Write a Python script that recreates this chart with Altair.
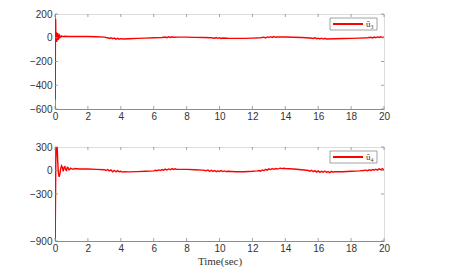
import altair as alt
import pandas as pd

# ---- data ----
t3 = [0, 0.01, 0.02, 0.03, 0.04, 0.05, 0.06, 0.07, 0.08, 0.09, 0.1, 0.12, 0.14, 0.16, 0.18, 0.2,
      0.22, 0.24, 0.26, 0.28, 0.3, 0.35, 0.4, 0.45, 0.5, 0.6, 0.8, 1.0, 1.5, 2.0, 2.5, 3.0,
      3.1, 3.2, 3.3, 3.4, 3.5, 3.6, 3.7, 3.8, 3.9, 4.0, 4.2, 4.5, 5.0, 5.5, 6.0, 6.5,
      6.7, 6.8, 6.9, 7.0, 7.1, 7.2, 7.5, 8.0, 8.5, 9.0, 9.5, 9.7, 9.8, 9.9, 10.0, 10.1,
      10.2, 10.5, 11.0, 11.5, 12.0, 12.5, 12.7, 12.8, 12.9, 13.0, 13.1, 13.2, 13.3, 13.4,
      13.5, 14.0, 14.5, 15.0, 15.5, 15.7, 15.8, 15.9, 16.0, 16.1, 16.2, 16.3, 16.4, 16.5,
      17.0, 17.5, 18.0, 18.5, 19.0, 19.2, 19.3, 19.4, 19.5, 19.6, 19.7, 19.8, 19.9, 20.0]
u3 = [0, -520, -200, 160, 150, 20, -30, 45, 40, -20, -35, 30, 40, -10, -20, 25,
      20, -5, 0, 20, 15, 5, 15, 10, 10, 12, 10, 10, 10, 10, 8, 5,
      2, 0, -6, 0, -8, -3, -12, -5, -12, -8, -10, -8, -5, -3, 0, 2,
      6, 1, 8, 2, 8, 4, 5, 5, 3, 2, 0, -4, 2, -5, 0, -6,
      -2, -4, -5, -5, -3, 0, 5, -1, 7, 2, 9, 3, 10, 4, 6, 6, 4, 2, -2, -6,
      0, -8, -4, -10, -4, -11, -5, -10, -8, -6, -5, -3, 0, 4, -1, 6, 1, 7,
      2, 8, 3, 5]

t4 = [0, 0.01, 0.03, 0.05, 0.08, 0.12, 0.16, 0.2, 0.25, 0.3, 0.35, 0.4, 0.45, 0.5, 0.55, 0.6,
      0.65, 0.7, 0.75, 0.8, 0.85, 0.9, 0.95, 1.0, 1.1, 1.2, 1.5, 2.0, 2.5, 3.0,
      3.1, 3.2, 3.3, 3.4, 3.5, 3.6, 3.7, 3.8, 3.9, 4.0, 4.1, 4.2, 4.5, 5.0, 5.5, 6.0,
      6.1, 6.2, 6.3, 6.4, 6.5, 6.6, 6.7, 6.8, 6.9, 7.0, 7.1, 7.2, 7.3, 7.4, 8.0, 8.5, 9.0,
      9.2, 9.3, 9.4, 9.5, 9.6, 9.7, 9.8, 9.9, 10.0, 10.1, 10.2, 10.3, 10.4, 10.5,
      11.0, 11.5, 12.0, 12.3, 12.4, 12.5, 12.6, 12.7, 12.8, 12.9, 13.0, 13.1, 13.2, 13.3,
      13.4, 13.5, 13.6, 13.7, 13.8, 13.9, 14.0, 14.5, 15.0, 15.4,
      15.5, 15.6, 15.7, 15.8, 15.9, 16.0, 16.1, 16.2, 16.3, 16.4, 16.5, 16.6, 16.7, 16.8,
      16.9, 17.0, 17.5, 18.0, 18.5, 18.9, 19.0, 19.1, 19.2, 19.3, 19.4, 19.5, 19.6, 19.7,
      19.8, 19.9, 20.0]
u4 = [0, -870, -400, 100, 340, 380, 150, -20, -80, -40, 30, 60, 40, -10, 40, 50,
      10, 0, 40, 35, 10, 15, 30, 25, 15, 25, 20, 20, 15, 10,
      0, 12, -5, 8, -15, 2, -18, -2, -16, -10, -20, -14, -18, -15, -10, -5,
      3, -3, 7, 0, 12, 4, 18, 6, 20, 10, 24, 14, 22, 15, 15, 10, 5,
      -3, 7, -10, 3, -12, 0, -15, -5, -12, -2, -14, -6, -14, -10,
      -15, -15, -10, -5, 0, -8, 7, -3, 15, 5, 20, 10, 25, 15,
      26, 20, 24, 30, 24, 28, 25, 20, 10, 0,
      -8, 3, -15, -2, -20, -6, -24, -10, -22, -7, -25, -14, -28, -12,
      -22, -15, -15, -10, -5, 4, -3, 8, 0, 12, 4, 16, 5, 20,
      10, 24, 10]

x_ticks = [0, 2, 4, 6, 8, 10, 12, 14, 16, 18, 20]
y3_ticks = [-600, -400, -200, 0, 200]
y4_ticks = [-900, -300, 0, 300]

W = 329
RED = "#ff0000"
GRAY = "#8c8c8c"
TXT = "#333333"


def panel(t, u, label, ydom, yticks, xtitle, H):
    df = pd.DataFrame({"t": t, "u": u})
    xs = alt.Scale(domain=[0, 20], nice=False)
    ys = alt.Scale(domain=ydom, nice=False)
    xa = alt.Axis(values=x_ticks, title=xtitle, ticks=False, grid=False,
                  labelOverlap=False, labelFlush=False,
                  domainColor=GRAY, labelFont="Liberation Sans", labelFontSize=10,
                  labelColor=TXT, labelPadding=2, titleFont="Liberation Serif",
                  titleFontSize=11, titleFontWeight="normal", titleColor=TXT,
                  titlePadding=2)
    ya = alt.Axis(values=yticks, title=None, ticks=False, grid=False,
                  labelOverlap=False, labelFlush=False,
                  domainColor=GRAY, labelFont="Liberation Sans", labelFontSize=10,
                  labelColor=TXT, labelPadding=3)
    line = alt.Chart(df).mark_line(strokeWidth=1.4, clip=True, color=RED).encode(
        x=alt.X("t:Q", scale=xs, axis=xa, title=xtitle),
        y=alt.Y("u:Q", scale=ys, axis=ya, title=None),
    )
    xt = pd.DataFrame({"v": x_ticks})
    yt = pd.DataFrame({"v": yticks})
    tb = alt.Chart(xt).mark_rule(color=GRAY, strokeWidth=0.8).encode(
        x=alt.X("v:Q", scale=xs, axis=xa, title=xtitle), y=alt.value(H), y2=alt.value(H - 3))
    tt = alt.Chart(xt).mark_rule(color=GRAY, strokeWidth=0.8).encode(
        x=alt.X("v:Q", scale=xs, axis=xa, title=xtitle), y=alt.value(0), y2=alt.value(3))
    tl = alt.Chart(yt).mark_rule(color=GRAY, strokeWidth=0.8).encode(
        y=alt.Y("v:Q", scale=ys, axis=ya, title=None), x=alt.value(0), x2=alt.value(3))
    tr = alt.Chart(yt).mark_rule(color=GRAY, strokeWidth=0.8).encode(
        y=alt.Y("v:Q", scale=ys, axis=ya, title=None), x=alt.value(W), x2=alt.value(W - 3))
    # legend box
    ld = pd.DataFrame({"s": [label]})
    lbox = alt.Chart(ld).mark_rect(fill="white", stroke=GRAY, strokeWidth=0.8).encode(
        x=alt.value(W - 54), x2=alt.value(W - 7), y=alt.value(4), y2=alt.value(16))
    lline = alt.Chart(ld).mark_rule(color=RED, strokeWidth=2).encode(
        x=alt.value(W - 51), x2=alt.value(W - 21), y=alt.value(10))
    ltext = alt.Chart(ld).mark_text(align="left", baseline="middle", font="Liberation Serif",
                                    fontSize=9, color=TXT).encode(
        x=alt.value(W - 18), y=alt.value(10), text="s:N")
    return alt.layer(line, tb, tt, tl, tr, lbox, lline, ltext).properties(width=W, height=H)


top = panel(t3, u3, "ū₃", [-600, 200], y3_ticks, None, 95)
bot = panel(t4, u4, "ū₄", [-900, 300], y4_ticks, "Time(sec)", 94)

chart = alt.vconcat(top, bot, spacing=19).properties(
    padding={"left": 20, "top": 0, "right": 5, "bottom": 0}
).configure_view(stroke=GRAY, strokeWidth=1).configure(background="white")

chart.save("out.html", embed_options={"renderer": "svg", "actions": False})
